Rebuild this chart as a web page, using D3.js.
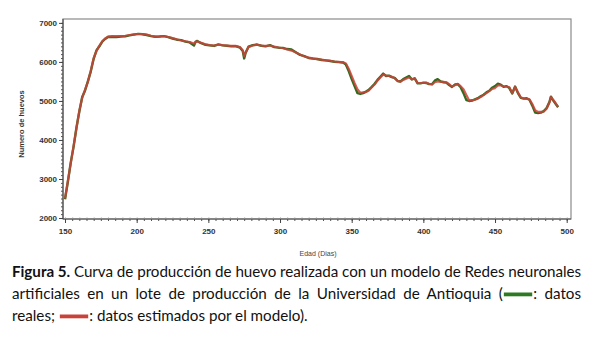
<!DOCTYPE html>
<html><head><meta charset="utf-8">
<script src="https://cdn.jsdelivr.net/npm/d3@7/dist/d3.min.js"></script>
<style>
html,body{margin:0;padding:0;background:#fff;}
svg{display:block;}
</style></head>
<body>
<svg id="chart" width="594" height="341"></svg>
<script>
// ---- data ----
const days = [150,152,154,156,158,160,162,164,166,168,170,172,174,176,178,180,183,186,189,192,195,198,201,204,207,210,213,216,219,222,225,228,231,234,237,240,241,242,245,248,251,254,257,260,263,266,269,272,274,275,276,278,281,284,287,290,293,296,299,302,305,308,311,314,317,320,323,326,329,332,335,338,341,344,346,348,350,352,354,356,358,360,362,364,366,368,370,372,374,376,378,380,382,384,386,388,390,392,394,396,398,400,402,404,406,408,410,412,414,416,418,420,422,424,426,428,430,432,434,436,438,440,442,444,446,448,450,452,454,456,458,460,462,464,466,468,470,472,474,476,478,480,482,484,486,488,489,490,492,494];
const estimated = [2500,2950,3400,3850,4300,4750,5080,5290,5490,5780,6100,6280,6420,6530,6600,6650,6665,6660,6665,6670,6690,6705,6715,6715,6700,6670,6650,6655,6665,6640,6610,6580,6550,6530,6510,6470,6500,6530,6490,6450,6430,6420,6440,6430,6420,6410,6410,6380,6300,6150,6250,6380,6420,6440,6420,6410,6420,6390,6370,6350,6320,6290,6240,6190,6140,6110,6090,6070,6060,6040,6030,6010,6000,5990,5960,5820,5640,5460,5300,5210,5220,5230,5270,5350,5420,5520,5600,5680,5650,5640,5620,5580,5520,5490,5540,5570,5600,5560,5570,5460,5460,5460,5470,5440,5420,5480,5500,5490,5490,5480,5430,5370,5400,5440,5380,5300,5150,5010,5020,5030,5060,5100,5150,5200,5250,5310,5330,5400,5400,5370,5370,5350,5200,5360,5220,5090,5070,5060,5040,4920,4760,4720,4720,4730,4800,4960,5100,5060,4960,4850];
const real = [2480,2930,3420,3830,4320,4730,5100,5270,5510,5760,6080,6300,6400,6520,6590,6640,6645,6640,6650,6655,6680,6700,6720,6710,6690,6660,6645,6650,6660,6635,6600,6570,6560,6520,6500,6420,6510,6540,6480,6440,6425,6410,6450,6425,6415,6400,6405,6370,6280,6090,6230,6390,6430,6445,6415,6400,6430,6380,6365,6360,6330,6320,6250,6180,6150,6100,6085,6075,6050,6040,6025,6005,5995,5985,5930,5760,5560,5380,5200,5180,5200,5240,5290,5360,5440,5540,5620,5700,5640,5650,5610,5590,5510,5500,5560,5600,5640,5550,5580,5450,5450,5470,5460,5430,5430,5520,5560,5500,5480,5470,5410,5360,5420,5430,5350,5200,5020,5000,5010,5040,5070,5120,5160,5220,5260,5340,5380,5440,5420,5360,5380,5330,5190,5370,5200,5080,5060,5070,5030,4880,4700,4690,4700,4740,4820,4980,5110,5040,4940,4840];
const xTicks = [150,200,250,300,350,400,450,500];
const yTicks = [2000,3000,4000,5000,6000,7000];
const captionLines = [
  [{t:"Figura 5.", b:true},{t:" Curva de producción de huevo realizada con un modelo de Redes neuronales"}],
  [{t:"artificiales en un lote de producción de la Universidad de Antioquia ("},{sw:"#2e7a22"},{t:": datos"}],
  [{t:"reales; "},{sw:"#c8423a"},{t:": datos estimados por el modelo)."}]
];

// ---- chart ----
const svg = d3.select("#chart");
const L = 63, R = 571, T = 19, B = 219;
const x = d3.scaleLinear().domain([148.6, 503]).range([L, R]);
const y = d3.scaleLinear().domain([1975, 7100]).range([B, T]);

// frame
svg.append("rect").attr("x", L).attr("y", T).attr("width", R - L).attr("height", B - T)
  .attr("fill", "none").attr("stroke", "#8a8a8a").attr("stroke-width", 1.2);

// minor ticks
const gx = svg.append("g").attr("transform", `translate(0,${B})`);
gx.call(d3.axisBottom(x).tickValues(d3.range(150, 501, 5)).tickSize(2).tickFormat(""))
  .call(g => g.select(".domain").remove())
  .selectAll("line").attr("stroke", "#555");
const gy = svg.append("g").attr("transform", `translate(${L},0)`);
gy.call(d3.axisLeft(y).tickValues(d3.range(2000, 7001, 100)).tickSize(2).tickFormat(""))
  .call(g => g.select(".domain").remove())
  .selectAll("line").attr("stroke", "#555");
svg.append("g").attr("transform", `translate(0,${B})`)
  .call(d3.axisTop(x).tickValues(d3.range(150, 501, 5)).tickSize(2).tickFormat(""))
  .call(g => g.select(".domain").remove())
  .selectAll("line").attr("stroke", "#ccc");

// major axes
const ax = svg.append("g").attr("transform", `translate(0,${B})`)
  .call(d3.axisBottom(x).tickValues(xTicks).tickSize(4).tickPadding(5).tickFormat(d3.format("d")));
const ay = svg.append("g").attr("transform", `translate(${L},0)`)
  .call(d3.axisLeft(y).tickValues(yTicks).tickSize(4).tickPadding(2).tickFormat(d3.format("d")));
[ax, ay].forEach(g => {
  g.select(".domain").attr("stroke", "#555").attr("stroke-width", 1.2);
  g.selectAll(".tick line").attr("stroke", "#444");
  g.selectAll(".tick text").attr("font-family", "Liberation Sans, Arial, sans-serif")
    .attr("font-size", 8).attr("font-weight", "bold").attr("fill", "#333");
});
ay.select(".domain").attr("d", `M0,${T}V${B}`);
ax.select(".domain").attr("d", `M${L},0H${R}`);

// axis titles
svg.append("text").attr("x", 318).attr("y", 256).attr("text-anchor", "middle")
  .attr("font-family", "Liberation Sans, Arial, sans-serif").attr("font-size", 7)
  .attr("fill", "#444").text("Edad (Dias)");
svg.append("text").attr("transform", "translate(24,124) rotate(-90)").attr("text-anchor", "middle")
  .attr("font-family", "Liberation Sans, Arial, sans-serif").attr("font-size", 7.5)
  .attr("font-weight", "bold").attr("fill", "#333").text("Numero de huevos");

// lines
const line = d3.line().x((d, i) => x(days[i])).y(d => y(d));
svg.append("path").datum(real).attr("d", line).attr("fill", "none")
  .attr("stroke", "#2f6a1f").attr("stroke-width", 2.4).attr("stroke-linejoin", "round");
svg.append("path").datum(estimated).attr("d", line).attr("fill", "none")
  .attr("stroke", "#c9443a").attr("stroke-width", 2.2).attr("stroke-opacity", 0.85).attr("stroke-linejoin", "round");

// caption
const capX0 = 12, capX1 = 581;
const baselines = [277, 299, 321];
const justify = [true, true, false];
captionLines.forEach((segs, li) => {
  const txt = svg.append("text").attr("x", capX0).attr("y", baselines[li])
    .attr("font-family", "Lato, 'Open Sans', sans-serif").attr("font-size", 15.2).attr("fill", "#111");
  const swatches = [];
  segs.forEach(s => {
    if (s.sw) {
      const ts = txt.append("tspan").text("\u2002\u2002\u2002\u2002");
      swatches.push({node: ts.node(), color: s.sw});
    } else {
      txt.append("tspan").attr("font-weight", s.b ? "bold" : null).text(s.t);
    }
  });
  if (justify[li]) {
    const node = txt.node();
    const len = node.getComputedTextLength();
    const str = segs.map(s => s.t || "").join("");
    const nSp = (str.match(/ /g) || []).length;
    const extra = capX1 - capX0 - len;
    if (extra >= 0) {
      txt.attr("word-spacing", extra / nSp);
    } else {
      const nCh = node.getNumberOfChars();
      txt.attr("letter-spacing", extra / nCh);
    }
  }
  swatches.forEach(s => {
    const n = s.node;
    const st = n.getStartPositionOfChar(0);
    const en = n.getEndPositionOfChar(n.getNumberOfChars() - 1);
    svg.append("rect").attr("x", st.x + 1).attr("y", baselines[li] - 6.5)
      .attr("width", en.x - st.x - 2).attr("height", 3.8).attr("fill", s.color);
  });
});
</script>
</body></html>
